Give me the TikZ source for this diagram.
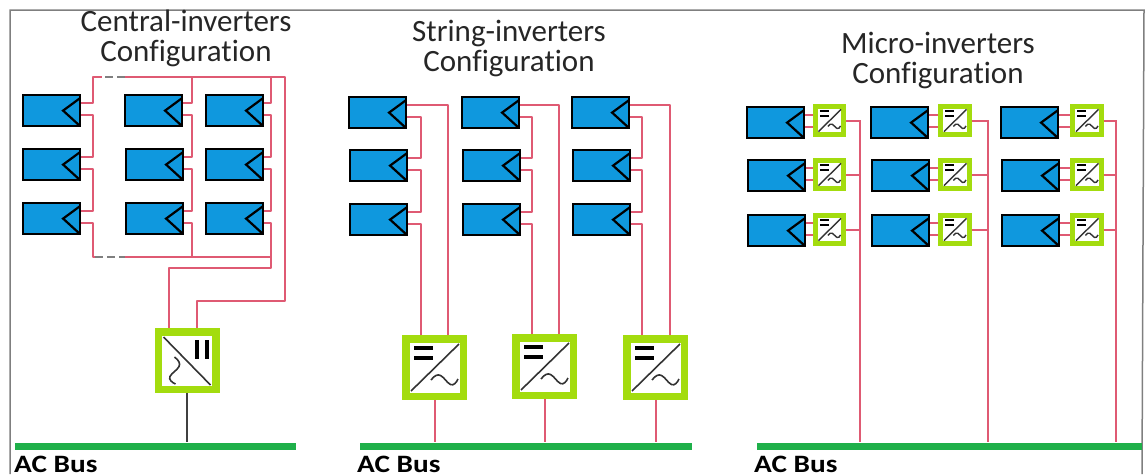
\documentclass[tikz,border=0pt]{standalone}
\usepackage{fontspec}
\setmainfont[Ligatures=NoCommon]{Carlito}
\usetikzlibrary{calc}

\definecolor{panelblue}{HTML}{0F98DE}
\definecolor{invgreen}{HTML}{A3DC0E}
\definecolor{busgreen}{HTML}{1FB04A}
\definecolor{wirered}{HTML}{DF5A73}
\definecolor{framegray}{HTML}{7F7F7F}

% #1 node, #2 scale, #3 rotation, #4 thin line, #5 bar line
\newcommand{\invsym}[5]{
  \begin{scope}[shift={(#1.center)},rotate=#3,scale=#2]
    \draw[line width=#4,black!80] (-23.5,23.5)--(24.5,-23.5);
    \draw[line width=#5,black] (-20.5,-19.5)--(-1.5,-19.5);
    \draw[line width=#5,black] (-20.5,-9.5)--(-1.5,-9.5);
    \draw[line width=#4,black!80] (-3.5,12.5) .. controls (0,8) and (3,6.5) .. (6,8)
      .. controls (10,10) and (12,15) .. (16,17) .. controls (19,18.5) and (22,15) .. (23.5,11.5);
  \end{scope}
}
% joins the minus end of one panel to the plus end of the next
\newcommand{\jumper}[3]{\draw[wire] (#1-n) -- (#1-n -| #3) -- (#2-p -| #3) -- (#2-p);}

\tikzset{
  panel/.style={draw=black,line width=2.2pt,fill=panelblue,inner sep=0pt,
    minimum width=57pt,minimum height=31pt,anchor=north west,
    path picture={\draw[line width=2.2pt]
      ([yshift=-3pt]path picture bounding box.north east)
      -- ([xshift=-17pt]path picture bounding box.east)
      -- (path picture bounding box.south east);}},
  wire/.style={draw=wirered,line width=2pt,line join=round},
  gapwire/.style={draw=framegray,line width=2pt,dash pattern=on 8pt off 4pt},
  stringinv/.style={draw=invgreen,fill=white,line width=7.5pt,inner sep=0pt,minimum size=57.5pt},
  microinv/.style={draw=invgreen,fill=white,line width=5pt,inner sep=0pt,minimum size=28.5pt},
  acbus/.style={fill=busgreen,inner sep=0pt,minimum height=7pt,anchor=west},
  title/.style={align=center,font=\fontsize{31}{30}\selectfont,text=black!85},
  buslabel/.style={anchor=base west,inner sep=0pt,xscale=1.17,
    font=\fontsize{25}{25}\selectfont\bfseries}
}

\begin{document}
\begin{tikzpicture}[x=1pt,y=-1pt]

\useasboundingbox (0,0) rectangle (1146,474);

\draw[framegray,line width=1.5pt] (10,474)--(10,10)--(1144,10)--(1142,474);

\node[title] (titleA) at (186,38) {Central-inverters\\Configuration};
\node[title] (titleB) at (509,48) {String-inverters\\Configuration};
\node[title] (titleC) at (938,60) {Micro-inverters\\Configuration};

% panels
\foreach \n/\x/\y in {A11/22/94,A12/22/148,A13/22/202,
                      A21/124/94,A22/125/148,A23/125/202,
                      A31/205/94,A32/205/148,A33/205/202,
                      B11/348/96,B12/349/149,B13/349/203,
                      B21/461/96,B22/462/149,B23/462/203,
                      B31/571/96,B32/572/149,B33/572/203,
                      C11/746/106,C12/747/159,C13/747/214,
                      C21/870/106,C22/871/159,C23/871/214,
                      C31/1000/106,C32/1001/159,C33/1001/214}{
  \node[panel] (\n) at (\x,\y) {};
  \coordinate (\n-p) at ([yshift=-9pt]\n.north east);
  \coordinate (\n-n) at ([yshift=-20.5pt]\n.north east);
}

% busbars
\node[acbus,minimum width=281pt] (busA) at (15,446) {};
\node[acbus,minimum width=332pt] (busB) at (360,446) {};
\node[acbus,minimum width=385pt] (busC) at (757,446) {};

\node[buslabel] (labelA) at (14,472) {AC Bus};
\node[buslabel] (labelB) at (357,472) {AC Bus};
\node[buslabel] (labelC) at (754,472) {AC Bus};

% central inverter
\node[stringinv] (CI) at (187,360.5) {};
\invsym{CI}{1}{-90}{1.6pt}{4pt}

\coordinate (TL) at (93,77);
\coordinate (TM) at (125,77);
\coordinate (TR) at (285,77);
\coordinate (BL) at (93,257);
\coordinate (BM) at (125,257);
\coordinate (BR) at (271,257);
\coordinate (A2t) at (192,77);
\coordinate (A2b) at (192,257);
\coordinate (A3t) at (271,77);
\coordinate (KR) at (197,301);
\coordinate (KL) at (169,268);

\draw[wire] (A11-p) -| (TL) -- ++(9,0);
\draw[gapwire] ($(TL)+(12,0)$) -- (TM);
\draw[wire] (TM) -- (TR) -- (TR |- KR) -- (KR) -- (KR |- CI.north);
\draw[wire] (A13-n) -| (BL) -- ++(2,0);
\draw[gapwire] ($(BL)+(2,0)$) -- (BM);
\draw[wire] (BM) -- (BR) -- (BR |- KL) -- (KL) -- (KL |- CI.north);
\draw[wire] (A21-p) -| (A2t);
\draw[wire] (A23-n) -| (A2b);
\draw[wire] (A31-p) -| (A3t);
\draw[wire] (A33-n) -| (BR);
\foreach \c/\b in {1/TL,2/A2t,3/A3t}{
  \jumper{A\c1}{A\c2}{\b}
  \jumper{A\c2}{A\c3}{\b}
}
\draw[black!75,line width=2pt] (CI.south) -- (CI.south |- busA.north);

% string inverters
\foreach \c/\x/\y/\xi/\xo in {1/434.5/367.5/421/448,2/544.5/366.5/532/559,3/655.5/367.5/642/670}{
  \node[stringinv] (SI\c) at (\x,\y) {};
  \invsym{SI\c}{1}{0}{1.6pt}{4pt}
  \coordinate (B\c i) at (\xi,0);
  \coordinate (B\c o) at (\xo,0);
  \draw[wire] (B\c1-p) -- (B\c1-p -| B\c o) -- (B\c o |- SI\c.north);
  \jumper{B\c1}{B\c2}{B\c i}
  \jumper{B\c2}{B\c3}{B\c i}
  \draw[wire] (B\c3-n) -- (B\c3-n -| B\c i) -- (B\c i |- SI\c.north);
  \draw[wire] (SI\c.south) -- (SI\c.south |- busB.north);
}

% micro inverters
\foreach \c/\x/\vx in {1/829.5/860,2/955/988,3/1087/1116}{
  \coordinate (V\c) at (\vx,120);
  \foreach \r/\y in {1/120.5,2/174.5,3/229.5}{
    \node[microinv] (M\c\r) at (\x,\y) {};
    \invsym{M\c\r}{0.47}{0}{1.4pt}{1.8pt}
    \draw[wire] (C\c\r-p) -- (C\c\r-p -| M\c\r.west);
    \draw[wire] (C\c\r-n) -- (C\c\r-n -| M\c\r.west);
    \draw[wire] (M\c\r.east) -- (M\c\r.east -| V\c);
  }
  \draw[wire] (V\c) -- (V\c |- busC.north);
}

\end{tikzpicture}
\end{document}
